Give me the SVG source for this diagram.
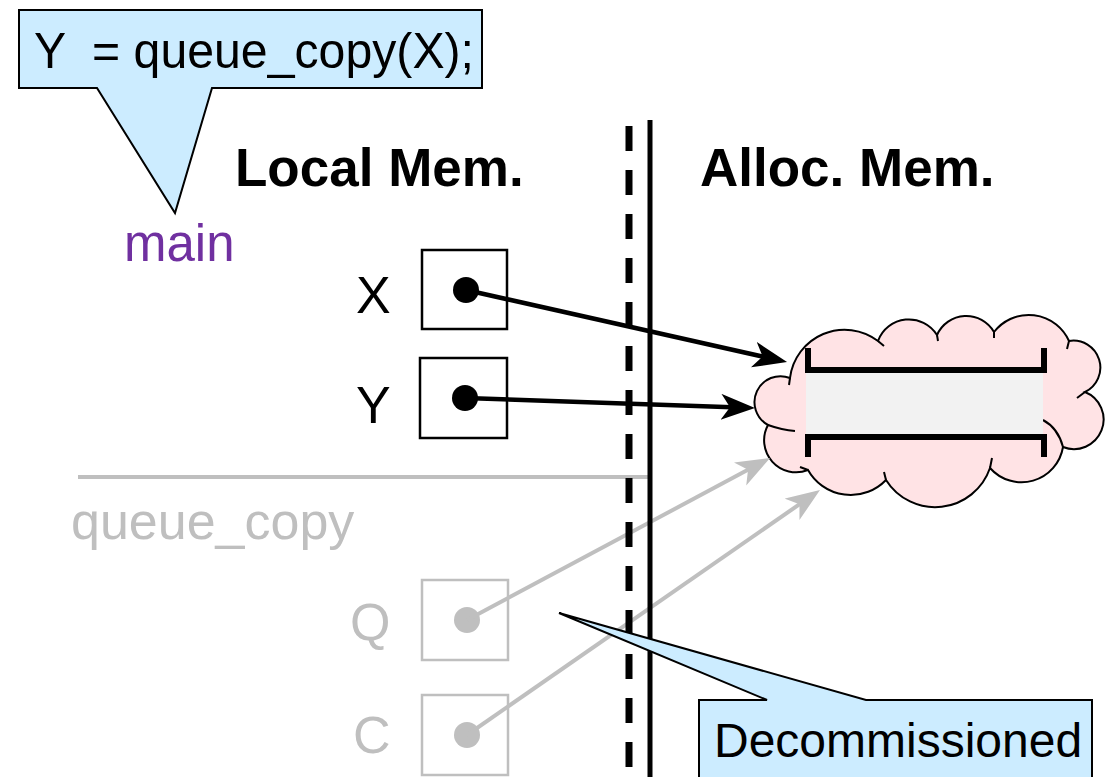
<svg xmlns="http://www.w3.org/2000/svg" width="1108" height="777" viewBox="0 0 1108 777">
<style>
text{font-family:"Liberation Sans",Arial,sans-serif;}
.t{font-size:52px;fill:#000;}
.g{font-size:52px;fill:#BFBFBF;}
.b{font-size:53px;font-weight:bold;fill:#000;}
.box{fill:#fff;stroke:#000;stroke-width:2.5;}
.gbox{fill:#fff;stroke:#BFBFBF;stroke-width:2.5;}
.call{fill:#CCECFF;stroke:#000;stroke-width:2;stroke-linejoin:miter;}
.ln{fill:none;stroke:#000;stroke-width:4.5;}
.gln{fill:none;stroke:#BFBFBF;stroke-width:4;}
</style>
<defs>
<marker id="ah" markerUnits="userSpaceOnUse" markerWidth="36" markerHeight="28" refX="11" refY="13" orient="auto">
<path d="M0,0 L34,13 L0,26 L9,13 Z" fill="#000"/>
</marker>
<marker id="gah" markerUnits="userSpaceOnUse" markerWidth="36" markerHeight="28" refX="11" refY="13" orient="auto">
<path d="M0,0 L34,13 L0,26 L9,13 Z" fill="#BFBFBF"/>
</marker>
</defs>
<rect width="1108" height="777" fill="#fff"/>

<g id="separator">
<line x1="78" y1="477" x2="650" y2="477" stroke="#BFBFBF" stroke-width="4"/>
</g>

<g id="titles">
<text class="b" x="235" y="186">Local Mem.</text>
<text class="b" x="700" y="186">Alloc. Mem.</text>
</g>

<g id="callout-main">
<path class="call" d="M19,10 H482 V88 H212 L175,213 L97,88 H19 Z"/>
<text x="34" y="68" font-size="50" textLength="440" lengthAdjust="spacingAndGlyphs" xml:space="preserve">Y  = queue_copy(X);</text>
</g>

<g id="frame-main">
<text x="124" y="261" font-size="51" fill="#7030A0">main</text>
</g>

<g id="frame-queue_copy">
<text class="g" x="71" y="539">queue_copy</text>
</g>

<g id="var-X">
<text class="t" x="356" y="313">X</text>
<rect class="box" x="422" y="250" width="85" height="79"/>
<circle cx="466" cy="290" r="13" fill="#000"/>
</g>
<g id="var-Y">
<text class="t" x="356" y="423">Y</text>
<rect class="box" x="420" y="358" width="87" height="80"/>
<circle cx="465" cy="398" r="13" fill="#000"/>
</g>
<g id="var-Q">
<text class="g" x="350" y="640">Q</text>
<rect class="gbox" x="422" y="580" width="86" height="80"/>
<circle cx="467" cy="620" r="13" fill="#BFBFBF"/>
</g>
<g id="var-C">
<text class="g" x="353" y="753">C</text>
<rect class="gbox" x="422" y="695" width="86" height="80"/>
<circle cx="467" cy="735" r="13" fill="#BFBFBF"/>
</g>

<g id="heap-cloud">
<path d="M790,378 A55,55 0 0 1 878,341 A33,33 0 0 1 937,335 A32,32 0 0 1 994,332 A44,44 0 0 1 1069,341 A27,27 0 0 1 1085,392 A29.5,29.5 0 0 1 1063,447 A42,42 0 0 1 990,468 A58,58 0 0 1 886,480 A49,49 0 0 1 808,470 A32,32 0 0 1 768,425 A26,26 0 0 1 790,378 Z" fill="#FFE3E5" stroke="#000" stroke-width="2"/>
<path d="M768,425 Q782,430 795,431 M1085,392 l-8,6 M1063,447 Q1058,428 1043,420 M990,468 l2,-10 M886,480 l-2,-8 M808,470 l-8,-3 M878,341 l6,5 M937,335 l1,6 M994,332 l0,6 M1069,341 l-2,8 M790,378 l-1,7" fill="none" stroke="#000" stroke-width="2"/>
<rect x="806" y="370" width="237" height="67" fill="#F2F2F2"/>
<path d="M808,348 V370 H1044 V348" fill="none" stroke="#000" stroke-width="6"/>
<path d="M808,457 V437 H1044 V457" fill="none" stroke="#000" stroke-width="6"/>
</g>

<g id="connectors">
<line class="gln" x1="467" y1="620" x2="749.8" y2="468.8" marker-end="url(#gah)"/>
<line class="gln" x1="467" y1="735" x2="801.1" y2="503.1" marker-end="url(#gah)"/>
<line class="ln" x1="466" y1="290" x2="764.6" y2="357" marker-end="url(#ah)"/>
<line class="ln" x1="465" y1="398" x2="732" y2="407.2" marker-end="url(#ah)"/>
</g>

<g id="boundary">
<line x1="629" y1="126" x2="629" y2="777" stroke="#000" stroke-width="7" stroke-dasharray="25 19"/>
<line x1="650" y1="120" x2="650" y2="777" stroke="#000" stroke-width="5"/>
</g>

<g id="callout-decommissioned">
<path class="call" d="M699,700 H767 L559,613 L866,700 H1092 V800 H699 Z"/>
<text x="714" y="757" font-size="48">Decommissioned</text>
</g>
</svg>
